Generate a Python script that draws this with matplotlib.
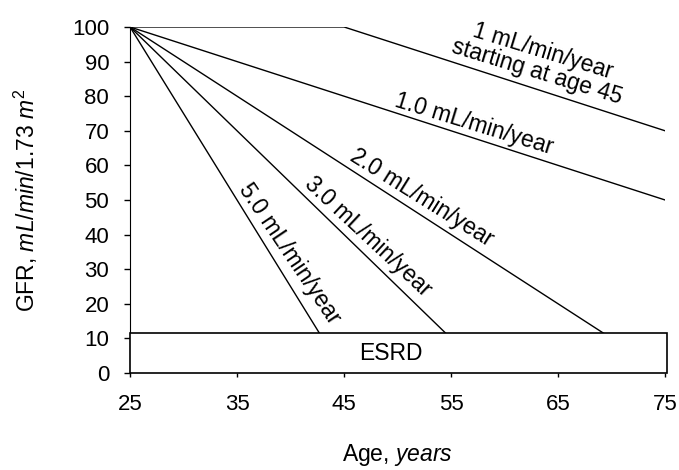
import numpy as np
import matplotlib.pyplot as plt
from matplotlib.patches import Rectangle

plt.rcParams['font.family'] = ['Liberation Sans', 'DejaVu Sans']
plt.rcParams['mathtext.fontset'] = 'custom'
plt.rcParams['mathtext.rm'] = 'Liberation Sans'
plt.rcParams['mathtext.it'] = 'Liberation Sans:italic'

# Decline scenarios: GFR starts at 100 at age 25, flat until the bend age, then falls
ages_start = [25, 25, 25, 25, 25]
ages_bend = [45, 25, 25, 25, 25]
ages_end = [75, 75, 70, 55, 43]
gfr_end = [70, 50, 10, 10, 10]
labels = ["1 mL/min/year\nstarting at age 45", "1.0 mL/min/year",
          "2.0 mL/min/year", "3.0 mL/min/year", "5.0 mL/min/year"]
label_x = [63.3, 57.1, 52.3, 47.2, 39.9]
label_y = [90.0, 72.0, 50.6, 39.5, 34.4]
label_rot = [-17, -17, -32, -43, -56]
esrd_level = 11.5

fig = plt.figure(figsize=(6.79, 4.70), dpi=100)
ax = fig.add_axes([0.1915, 0.2064, 0.788, 0.7362])

for a0, ab, a1, g1 in zip(ages_start, ages_bend, ages_end, gfr_end):
    ax.plot([a0, ab, a1], [100, 100, g1], color='black', lw=1.0, zorder=2)

for lab, x, y, r in zip(labels, label_x, label_y, label_rot):
    ax.text(x, y, lab, rotation=r, ha='center', va='center', fontsize=16.5,
            rotation_mode='anchor', linespacing=0.9)

# ESRD box
ax.add_patch(Rectangle((25, 0), 50.2, esrd_level, facecolor='white', edgecolor='black',
                       lw=1.2, zorder=3, clip_on=False))
ax.text(49.4, esrd_level / 2, "ESRD", ha='center', va='center', fontsize=16.5, zorder=4)

ax.set_xlim(25, 75)
ax.set_ylim(0, 100)
ax.set_xticks([25, 35, 45, 55, 65, 75])
ax.set_yticks(np.arange(0, 101, 10))
ax.spines['top'].set_visible(False)
ax.spines['right'].set_visible(False)
ax.spines['bottom'].set_visible(False)
ax.tick_params(axis='y', length=4, width=1, labelsize=16, pad=11)
ax.tick_params(axis='x', length=3, width=1, labelsize=16, pad=12)

ax.set_xlabel("Age, $\\mathit{years}$", fontsize=16.5)
ax.set_ylabel("GFR, $\\mathit{mL/min/1.73\\ m^2}$", fontsize=16.5)
ax.xaxis.label.set_va('center')
ax.yaxis.label.set_va('center')
ax.xaxis.set_label_coords(0.5, -0.237)
ax.yaxis.set_label_coords(-0.194, 0.5)

fig.savefig("out.png", dpi=100)
